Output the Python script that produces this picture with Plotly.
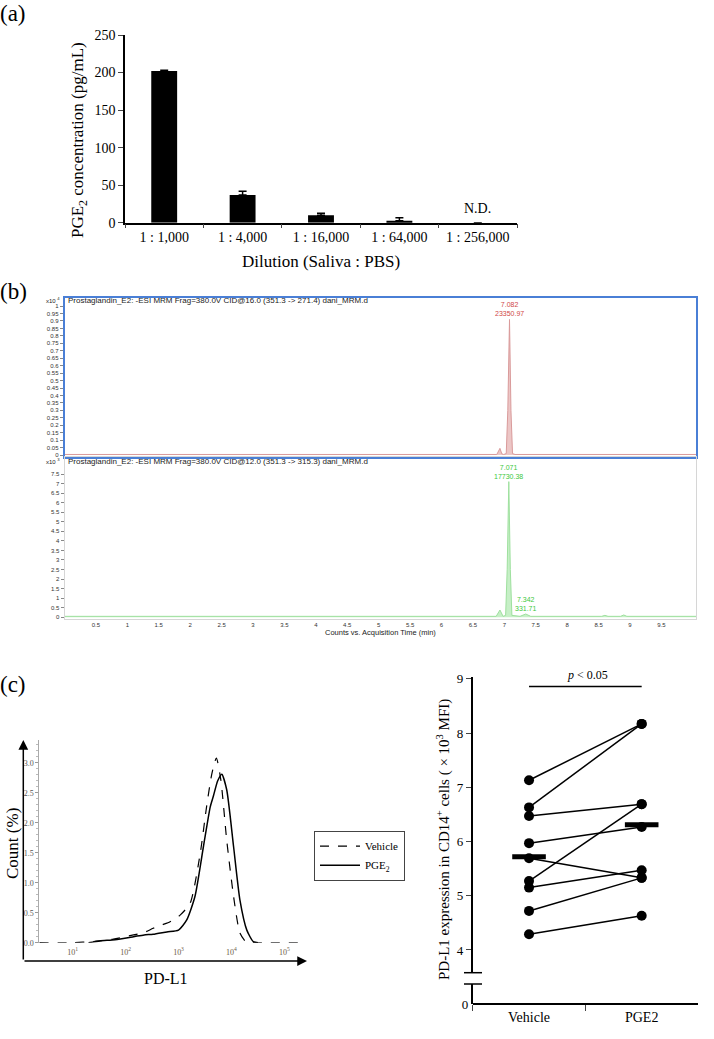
import plotly.graph_objects as go

# ---------------- data ----------------
# (a) PGE2 concentration by dilution
dilutions = ["1 : 1,000", "1 : 4,000", "1 : 16,000", "1 : 64,000", "1 : 256,000"]
pge2_conc = [202, 37, 10, 2.5, 0]
pge2_err = [1, 5, 2.5, 4, 0]

# (b) chromatograms (time in min)
top_time = [0.0, 6.88, 6.93, 6.96, 6.99, 7.03, 7.055, 7.082, 7.105, 7.13, 7.17, 8.55, 8.6, 8.65, 10.05]
top_counts = [0.004, 0.004, 0.045, 0.008, 0.004, 0.01, 0.3, 0.91, 0.3, 0.01, 0.004, 0.004, 0.008, 0.004, 0.004]  # x10^4
bot_time = [0.0, 6.87, 6.93, 6.98, 7.02, 7.045, 7.071, 7.095, 7.12, 7.25, 7.34, 7.42, 8.55, 8.6, 8.65, 8.85, 8.9, 8.95, 10.05]
bot_counts = [0.05, 0.05, 0.38, 0.05, 0.1, 2.5, 7.1, 2.5, 0.1, 0.05, 0.17, 0.05, 0.05, 0.1, 0.05, 0.05, 0.12, 0.05, 0.05]  # x10^3
chrom_xticks = [0.5, 1, 1.5, 2, 2.5, 3, 3.5, 4, 4.5, 5, 5.5, 6, 6.5, 7, 7.5, 8, 8.5, 9, 9.5]
top_yticks = [0, 0.05, 0.1, 0.15, 0.2, 0.25, 0.3, 0.35, 0.4, 0.45, 0.5, 0.55, 0.6, 0.65, 0.7, 0.75,
              0.8, 0.85, 0.9, 0.95, 1]
bot_yticks = [0, 0.5, 1, 1.5, 2, 2.5, 3, 3.5, 4, 4.5, 5, 5.5, 6, 6.5, 7, 7.5]

# (c) flow histogram (log10 PD-L1, % count)
veh_log = [0.37, 1.0, 1.39, 1.77, 2.15, 2.35, 2.52, 2.7, 2.84, 3.03, 3.22, 3.41, 3.53, 3.63, 3.715, 3.80, 3.91, 4.04, 4.16, 4.28, 4.4, 5.37]
veh_cnt = [0.0, 0.0, 0.02, 0.06, 0.13, 0.17, 0.24, 0.3, 0.35, 0.46, 0.66, 1.49, 2.27, 2.82, 3.08, 2.71, 1.71, 0.77, 0.16, 0.01, 0.0, 0.0]
pge_log = [1.3, 1.51, 1.8, 2.15, 2.35, 2.52, 2.78, 3.0, 3.155, 3.31, 3.47, 3.60, 3.66, 3.74, 3.817, 3.91, 4.04, 4.16, 4.29, 4.41, 4.5]
pge_cnt = [0.0, 0.03, 0.05, 0.1, 0.13, 0.14, 0.18, 0.21, 0.38, 0.77, 1.6, 2.27, 2.45, 2.7, 2.81, 2.55, 1.6, 0.71, 0.21, 0.02, 0.0]
hist_tickvals = [10, 100, 1000, 10000, 100000]
hist_ticktext = ["10<sup>1</sup>", "10<sup>2</sup>", "10<sup>3</sup>", "10<sup>4</sup>", "10<sup>5</sup>"]

# (c) paired PD-L1 MFI (x10^3)
groups = ["Vehicle", "PGE2"]
vehicle_vals = [7.13, 6.63, 6.47, 5.97, 5.69, 5.27, 5.15, 4.72, 4.29]
pge2_vals = [8.17, 8.17, 6.69, 6.27, 5.33, 6.69, 5.47, 5.33, 4.63]
group_medians = [5.72, 6.31]

# ---------------- helpers ----------------
W, H = 714, 1039
SERIF = "Liberation Serif"
SANS = "Liberation Sans"


def px(x):
    return x / W


def py(y):
    return 1 - y / H


fig = go.Figure()

# (a) bars
fig.add_trace(go.Bar(
    x=dilutions, y=pge2_conc, width=0.33, marker=dict(color="black", line=dict(width=0)),
    error_y=dict(type="data", array=pge2_err, arrayminus=[0] * len(pge2_err), symmetric=False,
                 color="black", thickness=1.5, width=4),
    xaxis="x", yaxis="y", showlegend=False))

# (b) chromatograms
fig.add_trace(go.Scatter(x=top_time, y=top_counts, mode="lines", fill="tozeroy",
                         line=dict(color="#d99a9a", width=1), fillcolor="rgba(224,160,160,0.6)",
                         xaxis="x2", yaxis="y2", showlegend=False))
fig.add_trace(go.Scatter(x=bot_time, y=bot_counts, mode="lines", fill="tozeroy",
                         line=dict(color="#9ee09e", width=1), fillcolor="rgba(160,228,160,0.6)",
                         xaxis="x3", yaxis="y3", showlegend=False))

# (c) histogram
fig.add_trace(go.Scatter(x=[10 ** v for v in veh_log], y=veh_cnt, mode="lines", name="Vehicle",
                         line=dict(color="black", width=1.2, dash="dash", shape="spline", smoothing=0.6),
                         xaxis="x4", yaxis="y4", showlegend=True))
fig.add_trace(go.Scatter(x=[10 ** v for v in pge_log], y=pge_cnt, mode="lines", name="PGE<sub>2</sub>",
                         line=dict(color="black", width=1.5, shape="spline", smoothing=0.6),
                         xaxis="x4", yaxis="y4", showlegend=True))

# (c) paired plot
px_list, py_list = [], []
for v, p in zip(vehicle_vals, pge2_vals):
    px_list += [groups[0], groups[1], None]
    py_list += [v, p, None]
fig.add_trace(go.Scatter(x=px_list, y=py_list, mode="lines+markers",
                         line=dict(color="black", width=1.5),
                         marker=dict(color="black", size=10),
                         xaxis="x5", yaxis="y5", showlegend=False, connectgaps=False))
fig.add_trace(go.Scatter(x=groups, y=group_medians, mode="markers",
                         marker=dict(symbol="line-ew", size=24, line=dict(color="black", width=5)),
                         xaxis="x5", yaxis="y5", showlegend=False))
fig.add_trace(go.Scatter(x=[groups[0]], y=[0], mode="markers", marker=dict(opacity=0),
                         xaxis="x5", yaxis="y6", showlegend=False, hoverinfo="skip"))

serif_tick = dict(family=SERIF, size=14, color="black")
chrom_tick = dict(family=SANS, size=6, color="#333")

layout = dict(
    width=W, height=H, margin=dict(l=0, r=0, t=0, b=0, pad=0, autoexpand=False),
    paper_bgcolor="white", plot_bgcolor="rgba(0,0,0,0)",
    font=dict(family=SERIF, color="black"),
    # (a)
    xaxis=dict(domain=[px(125), px(517)], anchor="y", type="category", range=[-0.5, 4.5],
               showline=True, linecolor="black", linewidth=1.5, ticks="outside", ticklen=4,
               tickson="boundaries", tickwidth=1.2, tickfont=serif_tick, showgrid=False,
               ticklabelstandoff=1, automargin=False),
    yaxis=dict(domain=[py(222.7), py(35)], anchor="x", range=[0, 250], dtick=50,
               showline=True, linecolor="black", linewidth=1.5, ticks="outside", ticklen=5,
               tickwidth=1.2, tickfont=serif_tick, showgrid=False, zeroline=False, automargin=False),
    # (b) top
    xaxis2=dict(domain=[px(64.5), px(696)], anchor="y2", range=[0, 10.05], showticklabels=False,
                showline=True, mirror=True, linecolor="#4a7fd6", linewidth=1.5, ticks="",
                showgrid=False, zeroline=False, automargin=False),
    yaxis2=dict(domain=[py(457), py(297.7)], anchor="x2", range=[-0.013, 1.056], tickvals=top_yticks,
                showline=True, mirror=True, linecolor="#4a7fd6", linewidth=1.5, ticks="outside",
                ticklen=3, tickcolor="#888", tickfont=chrom_tick, showgrid=False, zeroline=False,
                automargin=False),
    # (b) bottom
    xaxis3=dict(domain=[px(64.5), px(696)], anchor="y3", range=[0, 10.05], tickvals=chrom_xticks,
                showline=True, mirror=True, linecolor="#d6d6d6", linewidth=1, ticks="",
                tickfont=chrom_tick, showgrid=False, zeroline=False, automargin=False),
    yaxis3=dict(domain=[py(619), py(457)], anchor="x3", range=[-0.09, 8.39], tickvals=bot_yticks,
                showline=True, mirror=True, linecolor="#d6d6d6", linewidth=1, ticks="outside",
                ticklen=3, tickcolor="#888", tickfont=chrom_tick, showgrid=False, zeroline=False,
                automargin=False),
    # (c) histogram
    xaxis4=dict(domain=[px(39.3), px(304)], anchor="y4", type="log", range=[0.37, 5.37],
                tickvals=hist_tickvals, ticktext=hist_ticktext, ticks="", showline=False,
                ticklabelstandoff=3, automargin=False,
                tickfont=dict(family=SERIF, size=8, color="#6b5a45"), showgrid=False, zeroline=False),
    yaxis4=dict(domain=[py(942.7), py(740)], anchor="x4", range=[0, 3.38], dtick=0.5, tickformat=".1f",
                showline=True, linecolor="#aaa", linewidth=1, ticks="outside", ticklen=3, tickcolor="#999",
                minor=dict(dtick=0.1, ticks="outside", ticklen=2, tickcolor="#bbb"), automargin=False,
                tickfont=dict(family=SERIF, size=8, color="#555"), showgrid=False, zeroline=False),
    # (c) paired
    xaxis5=dict(domain=[px(472.7), px(698)], anchor="free", position=py(1004), type="category",
                categoryorder="array", categoryarray=groups, range=[-0.5, 1.5],
                showline=True, linecolor="black", linewidth=1.5, ticks="outside", ticklen=6,
                tickson="boundaries", tickfont=dict(family=SERIF, size=14, color="black"), showgrid=False,
                automargin=False),
    yaxis5=dict(domain=[py(972.7), py(677.3)], anchor="x5", range=[3.58, 9.03], dtick=1, tick0=4,
                showline=True, linecolor="black", linewidth=1.5, ticks="outside", ticklen=5,
                tickfont=dict(family=SERIF, size=13, color="black"), showgrid=False, zeroline=False,
                automargin=False),
    yaxis6=dict(domain=[py(1004), py(984)], anchor="x5", range=[0, 0.37], tickvals=[0],
                showline=True, linecolor="black", linewidth=1.5, ticks="",
                tickfont=dict(family=SERIF, size=13, color="black"), showgrid=False, zeroline=False,
                automargin=False),
    legend=dict(x=px(314), y=py(830.7), xanchor="left", yanchor="top", bordercolor="#444",
                borderwidth=1, bgcolor="white", font=dict(family=SERIF, size=11),
                tracegroupgap=0, itemwidth=40),
)
fig.update_layout(**layout)

ann = []


def text(x, y, s, size, family=SERIF, color="black", angle=0, xanchor="center", yanchor="middle"):
    ann.append(dict(x=px(x), y=py(y), xref="paper", yref="paper", text=s, showarrow=False,
                    font=dict(family=family, size=size, color=color), textangle=angle,
                    xanchor=xanchor, yanchor=yanchor))


# panel labels
text(-2, 14, "(a)", 23, xanchor="left")
text(-2, 291, "(b)", 23, xanchor="left")
text(-2, 684, "(c)", 23, xanchor="left")

# (a)
text(79, 140, "PGE<sub>2</sub> concentration (pg/mL)", 17, angle=-90)
text(321, 262, "Dilution (Saliva : PBS)", 17)
ann.append(dict(x=dilutions[4], y=19, xref="x", yref="y", text="N.D.", showarrow=False,
                font=dict(family=SERIF, size=14), yanchor="middle"))

# (b)
text(66, 301, "Prostaglandin_E2: -ESI MRM Frag=380.0V CID@16.0 (351.3 -> 271.4) dani_MRM.d", 8,
     family=SANS, color="#222", xanchor="left")
text(66, 462, "Prostaglandin_E2: -ESI MRM Frag=380.0V CID@12.0 (351.3 -> 315.3) dani_MRM.d", 8,
     family=SANS, color="#222", xanchor="left")
text(62, 300, "x10 <sup>4</sup>", 6, family=SANS, color="#222", xanchor="right")
text(62, 461, "x10 <sup>3</sup>", 6, family=SANS, color="#222", xanchor="right")
text(380, 632, "Counts vs. Acquisition Time (min)", 7.5, family=SANS, color="#222")
ann.append(dict(x=top_time[7], y=top_counts[7], xref="x2", yref="y2", text="7.082<br>23350.97",
                showarrow=False, yanchor="bottom", font=dict(family=SANS, size=7, color="#d04848")))
ann.append(dict(x=bot_time[6], y=bot_counts[6], xref="x3", yref="y3", text="7.071<br>17730.38",
                showarrow=False, yanchor="bottom", font=dict(family=SANS, size=7, color="#3cc83c")))
ann.append(dict(x=bot_time[10], y=bot_counts[10], xref="x3", yref="y3", text="7.342<br>331.71",
                showarrow=False, yanchor="bottom", xanchor="center",
                font=dict(family=SANS, size=7, color="#3cc83c")))

# (c) histogram
text(12, 844, "Count (%)", 17, angle=-90)
text(166, 978, "PD-L1", 16)
ann.append(dict(x=px(23.3), y=py(740), xref="paper", yref="paper", ax=0, ay=221, text="",
                showarrow=True, arrowhead=2, arrowsize=1.3, arrowwidth=1.5, arrowcolor="black"))
ann.append(dict(x=px(307), y=py(961), xref="paper", yref="paper", ax=-284, ay=0, text="",
                showarrow=True, arrowhead=2, arrowsize=1.3, arrowwidth=1.5, arrowcolor="black"))

# (c) paired
text(443, 840, "PD-L1 expression in CD14<sup>+</sup> cells ( × 10<sup>3</sup> MFI)", 15, angle=-90)
text(587, 675, "<i>p</i> < 0.05", 12)

fig.update_layout(annotations=ann)

shapes = [
    dict(type="line", xref="x5", yref="y5", x0=0, x1=1, y0=8.86, y1=8.86,
         line=dict(color="black", width=1.5)),
    dict(type="line", xref="paper", yref="paper", x0=px(464), x1=px(482), y0=py(972.7), y1=py(972.7),
         line=dict(color="black", width=1.5)),
    dict(type="line", xref="paper", yref="paper", x0=px(464), x1=px(482), y0=py(984), y1=py(984),
         line=dict(color="black", width=1.5)),
]
fig.update_layout(shapes=shapes)

fig.write_html(
    "out.html",
    config={"displayModeBar": False},
    post_script=("document.documentElement.style.margin='0';"
                 "document.body.style.margin='0';document.body.style.padding='0';"
                 "document.body.style.overflow='hidden';"
                 "var d=document.querySelector('.plotly-graph-div');"
                 "d.style.position='absolute';d.style.top='0px';d.style.left='0px';"),
)
